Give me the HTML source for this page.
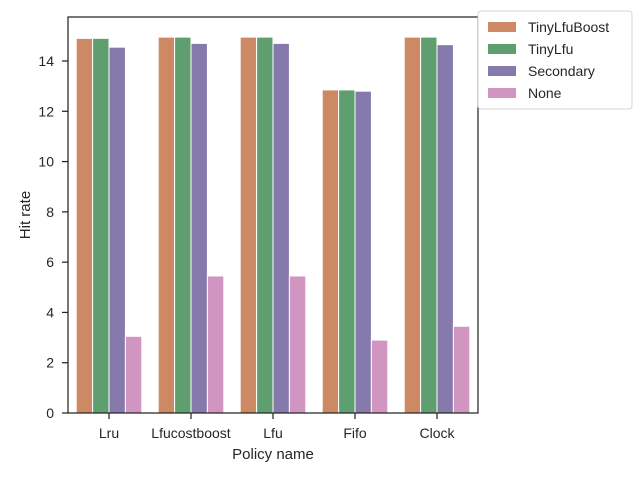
<!DOCTYPE html>
<html><head><meta charset="utf-8"><style>
body{margin:0;background:#fff;font-family:"Liberation Sans",sans-serif}
</style></head><body>
<svg id="c" width="640" height="480" font-family="Liberation Sans, sans-serif"></svg>
<script>
const categories=["Lru","Lfucostboost","Lfu","Fifo","Clock"];
const seriesNames=["TinyLfuBoost","TinyLfu","Secondary","None"];
const tinyLfuBoost=[14.9,14.95,14.95,12.85,14.95];
const tinyLfu=[14.9,14.95,14.95,12.85,14.95];
const secondary=[14.55,14.7,14.7,12.8,14.65];
const none=[3.05,5.45,5.45,2.9,3.45];
const yTicks=[0,2,4,6,8,10,12,14];
const series=[tinyLfuBoost,tinyLfu,secondary,none];
const colors=["#cc8963","#5f9e6e","#857aab","#d195c2"];
const L=68,R=478,T=17,B=413;
const svg=document.getElementById('c');
const NS="http://www.w3.org/2000/svg";
function mk(t,a,p){const e=document.createElementNS(NS,t);for(const k in a)e.setAttribute(k,a[k]);(p||svg).appendChild(e);return e;}
const ymax=15.75;
function y(v){return B-(v/ymax)*(B-T);}
const band=(R-L)/categories.length;
function xc(i){return L+band*(i+0.5);}
const bw=band*0.8/series.length;
series.forEach((s,si)=>{s.forEach((v,i)=>{
 const r=mk('rect',{x:xc(i)-band*0.4+si*bw,y:y(v),width:bw,height:B-y(v),fill:colors[si],stroke:"#fff","stroke-width":1});
 
 
});});
const fr=mk('rect',{x:L,y:T,width:R-L,height:B-T,fill:"none",stroke:"#262626","stroke-width":1.25});


yTicks.forEach(v=>{
 const l=mk('line',{x1:L-6,x2:L,y1:y(v),y2:y(v),stroke:"#262626","stroke-width":1.25});
 
 
 const t=mk('text',{x:L-14,y:y(v)+5,"text-anchor":"end","font-size":14,fill:"#262626"});t.textContent=v;
 
 
});
categories.forEach((c,i)=>{
 const l=mk('line',{x1:xc(i),x2:xc(i),y1:B,y2:B+6,stroke:"#262626","stroke-width":1.25});
 
 
 const t=mk('text',{x:xc(i),y:B+25,"text-anchor":"middle","font-size":14,fill:"#262626"});t.textContent=c;
 
 
});
const xt=mk('text',{x:(L+R)/2,y:459,"text-anchor":"middle","font-size":15,fill:"#262626"});xt.textContent="Policy name";


const yt=mk('text',{x:30,y:(T+B)/2,"text-anchor":"middle","font-size":15,fill:"#262626",transform:`rotate(-90 30 ${(T+B)/2})`});yt.textContent="Hit rate";


const lg=mk('g',{});


mk('rect',{x:478,y:11,width:154,height:98,rx:3,fill:"#fff",stroke:"#d6d6d6"},lg);
seriesNames.forEach((n,i)=>{
 const yy=22+i*22;
 const sw=mk('rect',{x:488,y:yy,width:28,height:10,fill:colors[i]},lg);
 
 
 const t=mk('text',{x:528,y:yy+10,"font-size":14,fill:"#262626"},lg);t.textContent=n;
 
 
});
</script>
</body></html>
